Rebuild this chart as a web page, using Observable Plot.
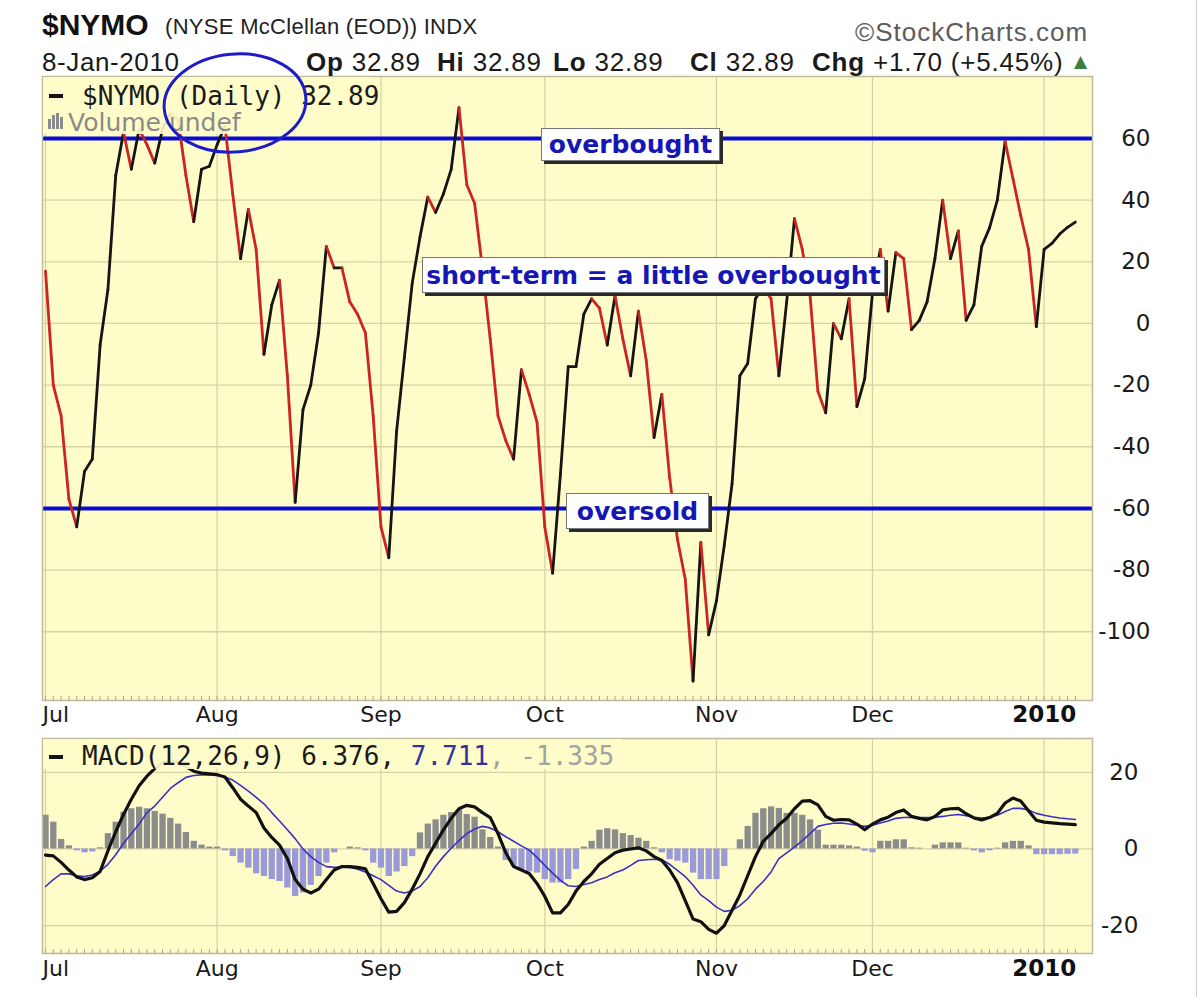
<!DOCTYPE html>
<html><head><meta charset="utf-8">
<script src="https://cdn.jsdelivr.net/npm/d3@7"></script>
<script src="https://cdn.jsdelivr.net/npm/@observablehq/plot@0.6"></script>
<style>
body{margin:0;background:#fff;}
#root{position:relative;width:1200px;height:997px;overflow:hidden;background:#fff;font-family:"Liberation Sans",Arial,sans-serif;color:#1a1a1a;}
.abs{position:absolute;white-space:nowrap;line-height:1;}
.mono{font-family:"DejaVu Sans Mono",monospace;font-size:26px;}
.note{position:absolute;background:#fff;border:1px solid #777;box-shadow:3px 3px 0 #2a2a2a;color:#1616b4;font:bold 25px "DejaVu Sans",Verdana,sans-serif;display:flex;align-items:center;justify-content:center;white-space:nowrap;box-sizing:border-box;}
</style></head><body><div id="root"></div>
<script>
// ---- data ----
const monthLabels = ["Jul","Aug","Sep","Oct","Nov","Dec","2010"];
const monthStart  = [0,22,43,64,86,106,128];   // trading-day index of each month start
const nymoTicks = [60,40,20,0,-20,-40,-60,-80,-100];
const macdTicks = [20,0,-20];
const overbought = 60, oversold = -60;

const nymo = [17,-20,-30,-57,-66,-48,-44,-7,11,48,
 62,50,63,58,52,63,68,66,48,33,
 50,51,58,64,42,21,37,24,-10,6,
 14,-17,-58,-28,-20,-3,25,18,18,7,
 3,-3,-30,-66,-76,-35,-11,13,28,41,
 36,42,50,70,45,39,18,-5,-30,-38,
 -44,-15,-23,-32,-66,-81,-49,-14,-14,3,
 8,5,-7,9,-5,-17,4,-12,-37,-23,
 -50,-70,-83,-116,-71,-101,-90,-72,-52,-17,
 -13,8,12,8,-17,7,34,24,9,-22,
 -29,0,-5,8,-27,-18,10,24,4,23,
 21,-2,1,7,21,40,21,30,1,6,
 25,31,40,59,47,35,24,-1,24,26,
 29,31.19,32.89];

const macd = [-1.6,-1.8,-3.5,-5.5,-7.3,-8,-7.5,-5.9,-0.5,4.5,
 9,13,16.5,19,21,22.5,23,22.5,21.5,20.3,
 19.8,19.6,19.4,18.8,16,13,11.2,9.5,5.5,3,
 1,-2.5,-8,-10.5,-11.5,-10.5,-8,-5.5,-4.6,-4.6,
 -4.8,-5.2,-9,-13,-16.5,-16.3,-14,-10.5,-6.5,-2,
 1.5,5,8,10.5,11.4,11,9.5,8.2,4,-1,
 -4.6,-5.5,-6.4,-9,-12.4,-16.7,-16.7,-14.5,-11,-8.5,
 -6.5,-4,-2.5,-1,-0.3,0,0.3,-0.5,-2,-3,
 -5.5,-8.8,-13.5,-18.3,-19,-21,-22,-20,-16,-12,
 -7,-2,2,4,6.3,8,10.5,12.5,12.6,11.5,
 8.5,7.5,7.7,7.6,6.5,5,6.5,7.6,8.3,9.5,
 10.2,8.5,8,7.6,8.5,10.2,10.5,10.6,9.2,8.1,
 7.6,8.2,9.3,12,13.3,12.5,10,7.5,7,6.8,
 6.6,6.5,6.376];

const signal = [-9.8,-8,-6.5,-6.5,-7,-7.2,-6.8,-5.8,-4,-1.5,
 1.5,4,6.5,9.5,11.2,13.5,15.8,17.3,18.7,19.2,
 19.3,19.3,19.2,18.8,18,16.6,15.1,13.5,11.8,9.5,
 7.3,5,2.7,0,-2,-3.5,-4.6,-4.8,-4.7,-4.8,
 -5.3,-6,-7,-8,-9.5,-11,-11.5,-11,-9.8,-7.5,
 -4.5,-2,0.2,2.2,4,5.2,5.9,5.5,4.5,3.2,
 2,0.8,-0.3,-2.2,-4.3,-6.3,-8.2,-9.6,-9.8,-9.3,
 -8.8,-8,-7.3,-6.2,-5.5,-4.3,-3,-2.8,-2.7,-2.8,
 -4,-5.6,-7.2,-9.5,-12,-13.5,-15.2,-16.3,-16,-14.8,
 -13,-10.5,-8.5,-6,-2.5,-1,0.5,2.2,4,5.9,
 6.4,6.7,6.8,6.5,6.2,5.9,6.2,6.8,7.3,8,
 8.2,8.3,8.2,8.2,8.3,8.5,8.8,9,8.7,8.3,
 8.1,8.3,8.8,9.8,10.6,10.6,10.2,9.3,8.8,8.4,
 8.1,7.9,7.711];

const hist = [8.8,7,2.5,0.8,-0.5,-1,-0.8,0.3,4,7,
 9.6,10.5,10.9,10.5,9.8,9.1,8,6.5,4.3,2,
 1,0.5,0.5,-0.5,-2,-3.7,-5,-6.5,-7.2,-8,
 -8.5,-10.2,-12.4,-11.5,-9.5,-7.2,-3.7,-1,0,0.5,
 0.3,-0.5,-3.7,-5,-7.2,-6,-4.6,-2,4.2,6.5,
 7.6,8.8,9.5,10.1,9,8.3,5,3,0.5,-3,
 -4.5,-5.4,-6,-6.3,-8,-8.9,-8.9,-8,-5.4,0.5,
 2,4.9,5.3,5,4,3.5,2.8,2,0.3,-1,
 -2.8,-3.2,-3.7,-6.3,-8,-8,-8,-4.6,0,2.4,
 5.9,9.3,10.5,11,10.6,9.3,9.3,8.8,7.6,4.9,
 1,1,1,0.8,0.5,-0.6,-1,2,2,2.4,
 2.4,0.3,0.2,0,1,1.6,1.6,1.6,0.2,-0.5,
 -1,-0.5,0.2,1.6,2,2,0.8,-1.5,-1.5,-1.5,
 -1.5,-1.4,-1.335];

// ---- derived tables for the library ----
const days = nymo.map((_, i) => i);
const segs = nymo.slice(1).map((v, k) => ({x1: k, y1: nymo[k], x2: k + 1, y2: v,
  c: v >= nymo[k] ? "#151515" : "#cc2424"}));
const macdData = macd.map((v, i) => ({i, v}));
const sigData = signal.map((v, i) => ({i, v}));
const histData = hist.map((v, i) => ({i, v, c: v >= 0 ? "#8c8c8c" : "#9a9ad8"}));
const labels = monthLabels.map((m, k) => ({m, x: monthStart[k]}));

const BG = "#fefdc9", GRID = "#d8d3a6", FRAME = "#bdbb9c";
const xDomain = [-0.385, 134.2];

function monthText(dy) {
  return [
    Plot.text(labels.slice(0, 1), {x: "x", text: "m", frameAnchor: "bottom", dy, dx: -3, textAnchor: "start", fontSize: 22, fontFamily: "DejaVu Sans", fill: "#1a1a1a"}),
    Plot.text(labels.slice(1, 6), {x: "x", text: "m", frameAnchor: "bottom", dy, textAnchor: "middle", fontSize: 22, fontFamily: "DejaVu Sans", fill: "#1a1a1a"}),
    Plot.text(labels.slice(6), {x: "x", text: "m", frameAnchor: "bottom", dy, textAnchor: "middle", fontSize: 23, fontWeight: "bold", fontFamily: "DejaVu Sans", fill: "#111"})
  ];
}

const main = Plot.plot({
  width: 1200, height: 730,
  marginTop: 76, marginBottom: 30, marginLeft: 42, marginRight: 108,
  x: {type: "linear", domain: xDomain, axis: null},
  y: {domain: [-122.3, 80.1], axis: null},
  color: {type: "identity"},
  style: {background: "transparent", fontFamily: "DejaVu Sans"},
  marks: [
    Plot.frame({fill: BG}),
    Plot.ruleY(nymoTicks, {stroke: GRID, strokeWidth: 1.3}),
    Plot.ruleX(monthStart, {stroke: GRID, strokeWidth: 1.3}),
    Plot.ruleY([overbought, oversold], {stroke: "#0a0ad4", strokeWidth: 4}),
    Plot.link(segs, {x1: "x1", y1: "y1", x2: "x2", y2: "y2", stroke: "c", strokeWidth: 2.8, strokeLinecap: "round", strokeLinejoin: "round"}),
    Plot.frame({stroke: FRAME, strokeWidth: 1.5}),
    Plot.axisX({anchor: "bottom", ticks: days, tickSize: 4, dy: -4, tickFormat: () => "", stroke: "#a8a690"}),
    Plot.text(nymoTicks, {y: d => d, text: d => String(d), frameAnchor: "right", textAnchor: "end", dx: 58, fontSize: 23, fontFamily: "DejaVu Sans", fill: "#1a1a1a"}),
    ...monthText(21)
  ]
});

const macdPlot = Plot.plot({
  width: 1200, height: 267,
  marginTop: 8, marginBottom: 44, marginLeft: 42, marginRight: 108,
  x: {type: "linear", domain: xDomain, axis: null},
  y: {domain: [-27.3, 28.85], axis: null},
  color: {type: "identity"},
  style: {background: "transparent", fontFamily: "DejaVu Sans"},
  marks: [
    Plot.frame({fill: BG}),
    Plot.ruleY(macdTicks, {stroke: GRID, strokeWidth: 1.3}),
    Plot.ruleX(monthStart, {stroke: GRID, strokeWidth: 1.3}),
    Plot.ruleX(histData, {x: "i", y1: 0, y2: "v", stroke: "c", strokeWidth: 6.3}),
    Plot.line(sigData, {x: "i", y: "v", stroke: "#3a30c4", strokeWidth: 1.6}),
    Plot.line(macdData, {x: "i", y: "v", stroke: "#111", strokeWidth: 3.2, strokeLinejoin: "round"}),
    Plot.frame({stroke: FRAME, strokeWidth: 1.5}),
    Plot.axisX({anchor: "bottom", ticks: days, tickSize: 4, dy: -4, tickFormat: () => "", stroke: "#a8a690"}),
    Plot.text(macdTicks, {y: d => d, text: d => String(d), frameAnchor: "right", textAnchor: "end", dx: 46, fontSize: 23, fontFamily: "DejaVu Sans", fill: "#1a1a1a"}),
    ...monthText(22)
  ]
});

const root = document.getElementById("root");
function put(el, top) { el.style.position = "absolute"; el.style.left = "0px"; el.style.top = top + "px"; root.appendChild(el); }
put(main, 0);
put(macdPlot, 730);

function div(html, style, cls) {
  const d = document.createElement("div");
  d.className = cls || "abs";
  d.setAttribute("style", style);
  d.innerHTML = html;
  root.appendChild(d);
  return d;
}

const last = a => a[a.length - 1];

// header
div("$NYMO", "left:42px;top:8px;font:bold 30px 'Liberation Sans',Arial,sans-serif;color:#111;");
div("(NYSE McClellan (EOD)) INDX", "left:165px;top:14px;font:22px 'Liberation Sans',Arial,sans-serif;color:#222;letter-spacing:0.3px;");
div("©StockCharts.com", "left:855px;top:17px;font:26px 'Liberation Sans',Arial,sans-serif;color:#5c5c5c;letter-spacing:1px;");
div("8-Jan-2010", "left:42px;top:47px;font:26px 'Liberation Sans',Arial,sans-serif;color:#1a1a1a;letter-spacing:0.6px;");
const hdr = "font:26px 'Liberation Sans',Arial,sans-serif;color:#1a1a1a;top:47px;letter-spacing:0.8px;";
const v = last(nymo).toFixed(2);
div("<b>Op</b> " + v, "left:306px;" + hdr);
div("<b>Hi</b> " + v, "left:437px;" + hdr);
div("<b>Lo</b> " + v, "left:553px;" + hdr);
div("<b>Cl</b> " + v, "left:690px;" + hdr);
div("<b>Chg</b> +1.70 (+5.45%)", "left:812px;" + hdr);
div("▲", "left:1074px;top:51px;font:17px 'DejaVu Sans',sans-serif;color:#3d7d3d;");

// main legend (with background like StockCharts)
div("", "left:43px;top:77px;width:328px;height:57px;background:rgba(254,253,201,0.9);");
div("", "left:49px;top:94px;width:14px;height:4px;background:#111;");
div("$NYMO (Daily) " + last(nymo).toFixed(2), "left:82px;top:83px;color:#1a1a1a;", "abs mono");
div('<svg width="19" height="16"><rect x="1" y="6" width="3" height="10" fill="#8a8a8a"/><rect x="5" y="2" width="3" height="14" fill="#8a8a8a"/><rect x="9" y="0" width="3" height="16" fill="#8a8a8a"/><rect x="13" y="4" width="3" height="12" fill="#8a8a8a"/></svg>', "left:47px;top:113px;");
div("Volume undef", "left:68px;top:108px;font:25px 'DejaVu Sans',sans-serif;color:#8a8a8a;");

// MACD legend
div("", "left:43px;top:739px;width:578px;height:30px;background:rgba(254,253,201,0.92);");
div("", "left:49px;top:755px;width:14px;height:4px;background:#111;");
div("MACD(12,26,9) " + last(macd).toFixed(3) + ", <span style='color:#34349e'>" + last(signal).toFixed(3) + "</span><span style='color:#a3a3a3'>, " + last(hist).toFixed(3) + "</span>",
    "left:82px;top:743px;color:#1a1a1a;", "abs mono");

// annotation boxes
div("overbought", "left:541px;top:128px;width:179px;height:33px;", "note");
div("short-term = a little overbought", "left:422px;top:257px;width:463px;height:36px;", "note");
div("oversold", "left:566px;top:493px;width:143px;height:36px;", "note");

// hand-drawn circle
div('<svg width="1200" height="997"><ellipse cx="235" cy="103" rx="71" ry="49" transform="rotate(-5 235 103)" fill="none" stroke="#1c1cc8" stroke-width="3"/></svg>', "left:0;top:0;pointer-events:none;");

// outer right border
div("", "left:1196px;top:0;width:1px;height:997px;background:#cfcfcf;");
</script>
</body></html>
